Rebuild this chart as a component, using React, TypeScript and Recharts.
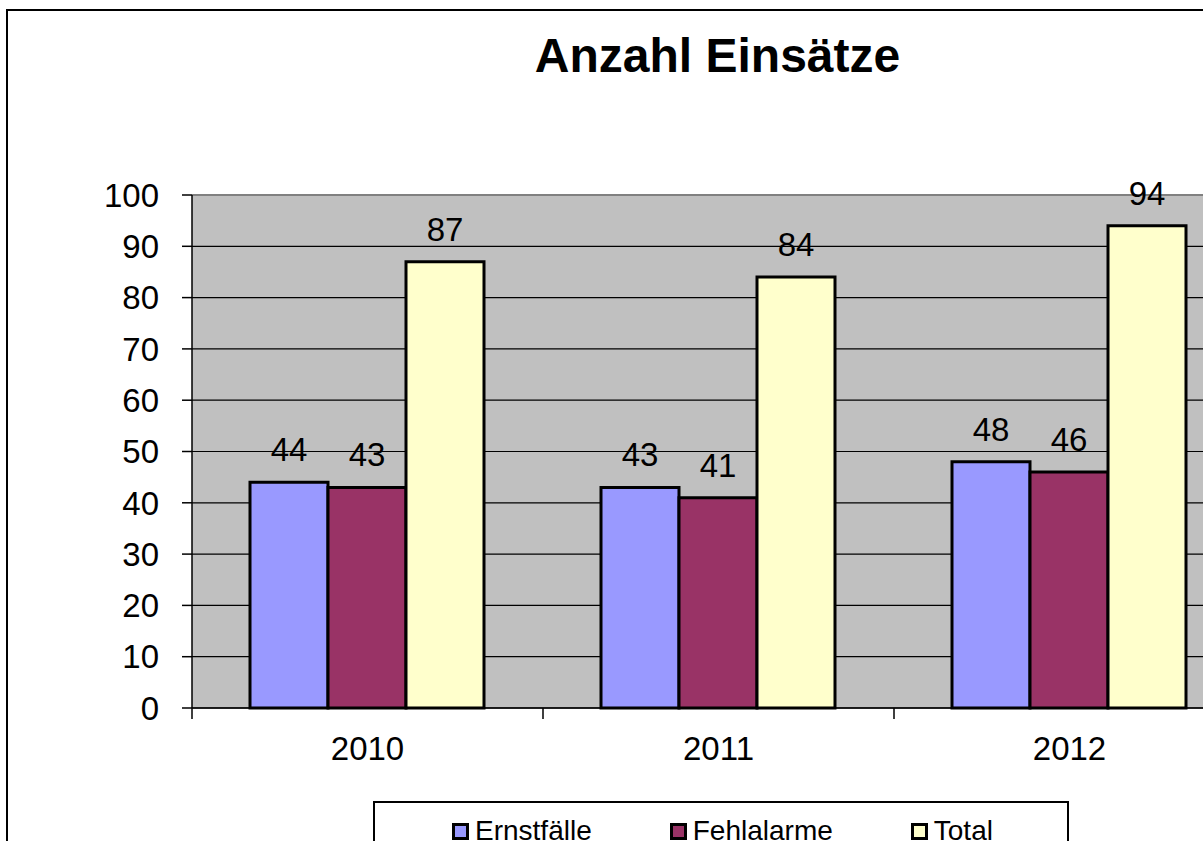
import React from 'react';
import { BarChart, Bar, XAxis, YAxis, CartesianGrid, LabelList, ReferenceLine } from 'recharts';

const categories = ['2010', '2011', '2012'];
const ernstfaelle = [44, 43, 48];
const fehlalarme = [43, 41, 46];
const total = [87, 84, 94];
const yTicks = [0, 10, 20, 30, 40, 50, 60, 70, 80, 90, 100];
const title = 'Anzahl Einsätze';

const series = [
  { key: 'ernstfaelle', name: 'Ernstfälle', color: '#9999FF', values: ernstfaelle },
  { key: 'fehlalarme', name: 'Fehlalarme', color: '#993366', values: fehlalarme },
  { key: 'total', name: 'Total', color: '#FFFFCC', values: total },
];

const data = categories.map((c, i) => {
  const row: Record<string, string | number> = { year: c };
  series.forEach((s) => {
    row[s.key] = s.values[i];
  });
  return row;
});

const FONT = "Arial, 'Liberation Sans', sans-serif";
const CHART_W = 1300;
const CHART_H = 900;
const Y_AXIS_W = 192;
const X_AXIS_H = 192;
const MARGIN = { top: 195, right: 55, bottom: 0, left: 0 };
const PLOT_W = CHART_W - Y_AXIS_W - MARGIN.right - MARGIN.left;
const BAND = PLOT_W / categories.length;

const XTick = (props: any) => {
  const { x, y, payload } = props;
  const left = x - BAND / 2;
  return (
    <g>
      <line x1={left} y1={y} x2={left} y2={y + 11} stroke="#000" strokeWidth={1.5} />
      <text x={x} y={y + 52} textAnchor="middle" fontSize={33} fontFamily={FONT} fill="#000">
        {payload.value}
      </text>
    </g>
  );
};

export default function App() {
  return (
    <div
      style={{
        position: 'fixed',
        left: 0,
        top: 0,
        width: 1203,
        height: 841,
        overflow: 'hidden',
        background: '#fff',
      }}
    >
      <div
        style={{
          position: 'absolute',
          left: 6,
          top: 9,
          width: 1400,
          height: 1000,
          border: '2px solid #000',
          boxSizing: 'border-box',
        }}
      />
      <div
        style={{
          position: 'absolute',
          left: 717.5,
          top: 32,
          transform: 'translateX(-50%)',
          fontFamily: FONT,
          fontWeight: 'bold',
          fontSize: 48,
          lineHeight: '48px',
          whiteSpace: 'nowrap',
          color: '#000',
        }}
      >
        {title}
      </div>
      <div style={{ position: 'absolute', left: 0, top: 0 }}>
        <BarChart
          width={CHART_W}
          height={CHART_H}
          data={data}
          margin={MARGIN}
          barCategoryGap={58}
          barGap={0}
        >
          <CartesianGrid vertical={false} stroke="#000" strokeWidth={1.2} fill="#C0C0C0" fillOpacity={1} />
          <ReferenceLine y={100} stroke="#808080" strokeWidth={2} />
          <YAxis
            width={Y_AXIS_W}
            domain={[0, 100]}
            ticks={yTicks}
            interval={0}
            tickSize={10}
            tickMargin={23}
            axisLine={{ stroke: '#000', strokeWidth: 1.5 }}
            tickLine={{ stroke: '#000', strokeWidth: 1.5 }}
            tick={{ fontSize: 33, fontFamily: FONT, fill: '#000' }}
          />
          <XAxis
            dataKey="year"
            height={X_AXIS_H}
            tickSize={0}
            tickMargin={0}
            tickLine={false}
            axisLine={{ stroke: '#000', strokeWidth: 1.5 }}
            tick={<XTick />}
            interval={0}
          />
          {series.map((s) => (
            <Bar
              key={s.key}
              dataKey={s.key}
              name={s.name}
              fill={s.color}
              stroke="#000"
              strokeWidth={3}
              isAnimationActive={false}
            >
              <LabelList
                dataKey={s.key}
                position="top"
                offset={21}
                style={{ fontSize: 33, fontFamily: FONT, fill: '#000' }}
              />
            </Bar>
          ))}
        </BarChart>
      </div>
      <div
        style={{
          position: 'absolute',
          left: 373,
          top: 801,
          width: 696,
          height: 120,
          border: '2px solid #000',
          boxSizing: 'border-box',
          background: '#fff',
        }}
      >
        <div
          style={{
            position: 'absolute',
            left: 77,
            top: 14,
            display: 'flex',
            alignItems: 'flex-start',
            whiteSpace: 'nowrap',
          }}
        >
          {series.map((s, i) => (
            <div
              key={s.key}
              style={{ display: 'flex', alignItems: 'flex-start', marginLeft: i === 0 ? 0 : 78 }}
            >
              <div
                style={{
                  width: 17,
                  height: 17,
                  marginTop: 6,
                  marginRight: 6,
                  background: s.color,
                  border: '3px solid #000',
                  boxSizing: 'border-box',
                }}
              />
              <span style={{ fontFamily: FONT, fontSize: 28, lineHeight: '28px', color: '#000' }}>{s.name}</span>
            </div>
          ))}
        </div>
      </div>
    </div>
  );
}
